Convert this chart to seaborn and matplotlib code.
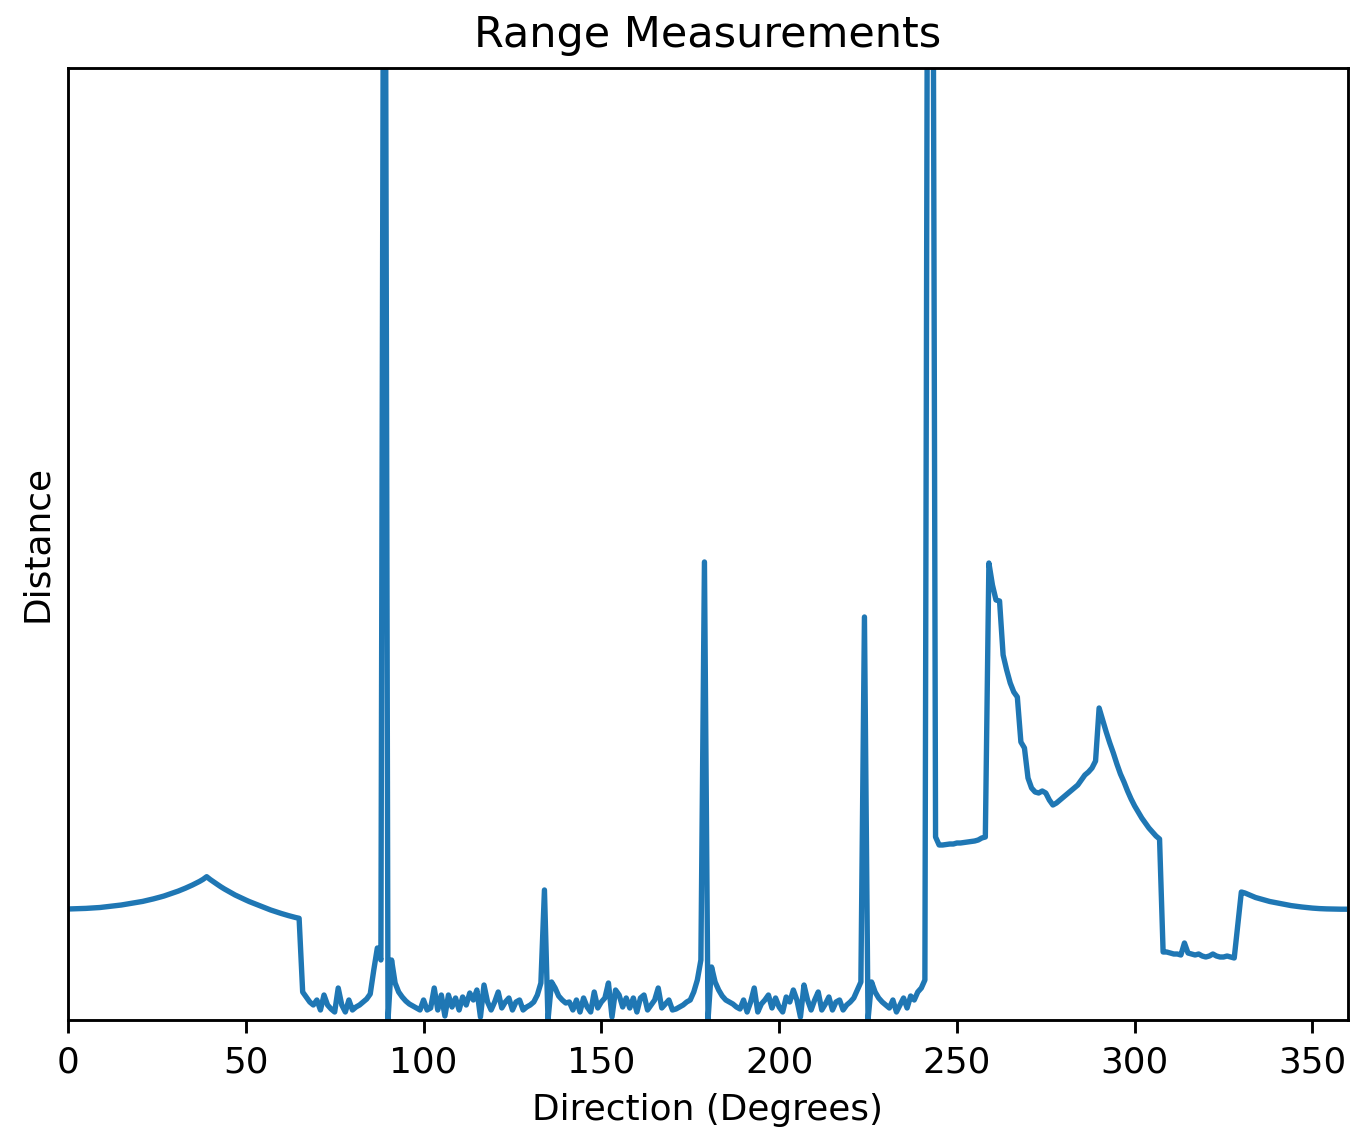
import matplotlib

matplotlib.use("Agg")
import matplotlib.pyplot as plt
import pandas as pd
import seaborn as sns

# one reading per degree, 0..359
directions = list(range(360))

distances = [
    1.110, 1.111, 1.112, 1.113, 1.114, 1.116, 1.118, 1.120, 1.123, 1.125,
    1.129, 1.132, 1.136, 1.140, 1.145, 1.150, 1.156, 1.162, 1.167, 1.173,
    1.179, 1.186, 1.194, 1.202, 1.211, 1.220, 1.230, 1.240, 1.252, 1.264,
    1.276, 1.289, 1.303, 1.318, 1.334, 1.350, 1.368, 1.386, 1.407, 1.433,
    1.405, 1.380, 1.356, 1.332, 1.310, 1.290, 1.270, 1.250, 1.233, 1.216,
    1.200, 1.184, 1.170, 1.155, 1.141, 1.127, 1.113, 1.100, 1.088, 1.076,
    1.065, 1.054, 1.044, 1.034, 1.025, 1.017, 0.28, 0.23, 0.18, 0.15,
    0.20, 0.10, 0.25, 0.15, 0.11, 0.08, 0.32, 0.15, 0.08, 0.20,
    0.10, 0.13, 0.15, 0.18, 0.21, 0.26, 0.50, 0.72, 0.60, 15.0,
    0.00, 0.60, 0.37, 0.28, 0.23, 0.19, 0.16, 0.14, 0.12, 0.10,
    0.20, 0.10, 0.12, 0.32, 0.10, 0.25, 0.04, 0.25, 0.13, 0.22,
    0.10, 0.23, 0.15, 0.27, 0.20, 0.30, 0.03, 0.35, 0.18, 0.10,
    0.18, 0.28, 0.12, 0.18, 0.22, 0.10, 0.18, 0.20, 0.10, 0.13,
    0.15, 0.18, 0.25, 0.37, 1.30, 0.00, 0.38, 0.32, 0.24, 0.20,
    0.17, 0.18, 0.10, 0.20, 0.08, 0.22, 0.13, 0.08, 0.28, 0.12,
    0.18, 0.22, 0.37, 0.03, 0.30, 0.25, 0.13, 0.22, 0.12, 0.22,
    0.08, 0.22, 0.25, 0.10, 0.15, 0.20, 0.32, 0.12, 0.16, 0.20,
    0.10, 0.11, 0.13, 0.15, 0.18, 0.20, 0.28, 0.40, 0.60, 4.58,
    0.00, 0.53, 0.38, 0.30, 0.24, 0.20, 0.18, 0.16, 0.13, 0.11,
    0.20, 0.08, 0.18, 0.32, 0.08, 0.16, 0.20, 0.25, 0.12, 0.22,
    0.13, 0.08, 0.23, 0.18, 0.30, 0.20, 0.03, 0.35, 0.20, 0.10,
    0.20, 0.28, 0.10, 0.16, 0.23, 0.10, 0.18, 0.20, 0.10, 0.15,
    0.18, 0.22, 0.30, 0.38, 4.03, 0.00, 0.38, 0.28, 0.22, 0.18,
    0.15, 0.12, 0.20, 0.08, 0.15, 0.22, 0.12, 0.24, 0.20, 0.28,
    0.32, 0.40, 15.0, 15.0, 1.83, 1.75, 1.75, 1.755, 1.76, 1.76,
    1.77, 1.77, 1.775, 1.78, 1.785, 1.79, 1.80, 1.82, 1.83, 4.57,
    4.35, 4.20, 4.19, 3.65, 3.50, 3.37, 3.28, 3.23, 2.78, 2.72,
    2.42, 2.32, 2.28, 2.27, 2.29, 2.27, 2.20, 2.15, 2.17, 2.20,
    2.23, 2.26, 2.29, 2.32, 2.35, 2.40, 2.45, 2.48, 2.52, 2.59,
    3.12, 3.00, 2.88, 2.77, 2.67, 2.56, 2.46, 2.38, 2.29, 2.21,
    2.14, 2.08, 2.02, 1.97, 1.92, 1.88, 1.84, 1.81, 0.68, 0.68,
    0.67, 0.66, 0.66, 0.65, 0.77, 0.67, 0.66, 0.65, 0.66, 0.64,
    0.63, 0.64, 0.66, 0.64, 0.63, 0.63, 0.64, 0.63, 0.62, 0.95,
    1.280, 1.270, 1.255, 1.240, 1.225, 1.215, 1.205, 1.195, 1.185, 1.178,
    1.170, 1.163, 1.156, 1.150, 1.144, 1.139, 1.134, 1.130, 1.126, 1.122,
    1.119, 1.116, 1.114, 1.112, 1.111, 1.110, 1.109, 1.109, 1.108, 1.108,
]

max_range = 9.52


def main() -> None:
    df = pd.DataFrame({"direction": directions, "distance": distances})

    dpi = 258
    fig = plt.figure(figsize=(1367 / dpi, 1129 / dpi), dpi=dpi)
    ax = fig.add_axes([68 / 1367, 109 / 1129, 1280 / 1367, 952 / 1129])

    sns.lineplot(
        data=df,
        x="direction",
        y="distance",
        color="#1f77b4",
        linewidth=1.5,
        ax=ax,
    )
    ax.set_xlim(0, 360)
    ax.set_ylim(0, max_range)
    ax.set_yticks([])
    ax.tick_params(axis="x", labelsize=10)
    ax.set_xlabel("Direction (Degrees)", fontsize=10)
    ax.set_ylabel("Distance", fontsize=10)
    ax.set_title("Range Measurements", fontsize=12)

    fig.savefig("out.png", dpi=dpi)
    plt.close(fig)


if __name__ == "__main__":
    main()
